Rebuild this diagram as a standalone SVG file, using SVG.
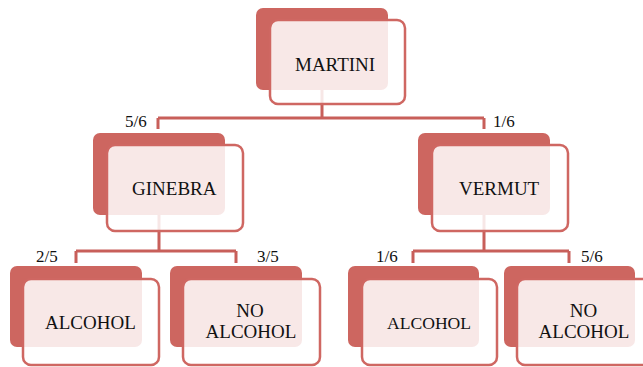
<svg xmlns="http://www.w3.org/2000/svg" width="643" height="367" viewBox="0 0 643 367">
<style>
.back{fill:#cd6660;}
.front{fill:#ffffff;fill-opacity:0.85;stroke:#cf6762;stroke-width:2.5;}
.conn{fill:none;stroke:#c85f5a;stroke-width:3;}
.lbl{font-family:"Liberation Serif","Times New Roman",serif;font-size:19px;fill:#111;}
.frac{font-family:"Liberation Serif","Times New Roman",serif;font-size:17px;fill:#111;}
</style>
<rect width="643" height="367" fill="#ffffff"/>
<g id="connectors">
<path class="conn" d="M322 90 V118 M158 118 H484 M158 118 V129 M484 118 V129"/>
<path class="conn" d="M159 215 V251 M76 251 H236 M76 251 V263 M236 251 V263"/>
<path class="conn" d="M484 215 V251 M413 251 H569 M413 251 V263 M569 251 V263"/>
<text class="frac" x="125" y="127">5/6</text>
<text class="frac" x="493" y="127">1/6</text>
<text class="frac" x="36" y="262">2/5</text>
<text class="frac" x="257" y="262">3/5</text>
<text class="frac" x="376" y="262">1/6</text>
<text class="frac" x="581" y="262">5/6</text>
</g>
<g id="martini">
<rect class="back" x="256" y="8" width="132" height="82" rx="7"/>
<rect class="front" x="270" y="20" width="135" height="84" rx="8"/>
<text class="lbl" x="295" y="71">MARTINI</text>
</g>
<g id="ginebra">
<rect class="back" x="93" y="133" width="132" height="82" rx="7"/>
<rect class="front" x="107" y="145" width="136" height="86" rx="8"/>
<text class="lbl" x="132" y="195">GINEBRA</text>
</g>
<g id="vermut">
<rect class="back" x="418" y="133" width="132" height="82" rx="7"/>
<rect class="front" x="432" y="145" width="136" height="86" rx="8"/>
<text class="lbl" x="459" y="195">VERMUT</text>
</g>
<g id="alcohol1">
<rect class="back" x="10" y="266" width="132" height="81" rx="7"/>
<rect class="front" x="23" y="279" width="136" height="86" rx="8"/>
<text class="lbl" x="45" y="329">ALCOHOL</text>
</g>
<g id="noalcohol1">
<rect class="back" x="170" y="266" width="132" height="81" rx="7"/>
<rect class="front" x="183" y="279" width="137" height="86" rx="8"/>
<text class="lbl" text-anchor="middle" x="250" y="317">NO</text>
<text class="lbl" text-anchor="middle" x="251" y="338">ALCOHOL</text>
</g>
<g id="alcohol2">
<rect class="back" x="348" y="266" width="131" height="81" rx="7"/>
<rect class="front" x="362" y="279" width="135" height="86" rx="8"/>
<text class="lbl" x="387" y="329" style="font-size:17.6px">ALCOHOL</text>
</g>
<g id="noalcohol2">
<rect class="back" x="504" y="266" width="131" height="81" rx="7"/>
<rect class="front" x="517" y="279" width="136" height="86" rx="8"/>
<text class="lbl" text-anchor="middle" x="583.5" y="317">NO</text>
<text class="lbl" text-anchor="middle" x="584" y="338">ALCOHOL</text>
</g>
</svg>
